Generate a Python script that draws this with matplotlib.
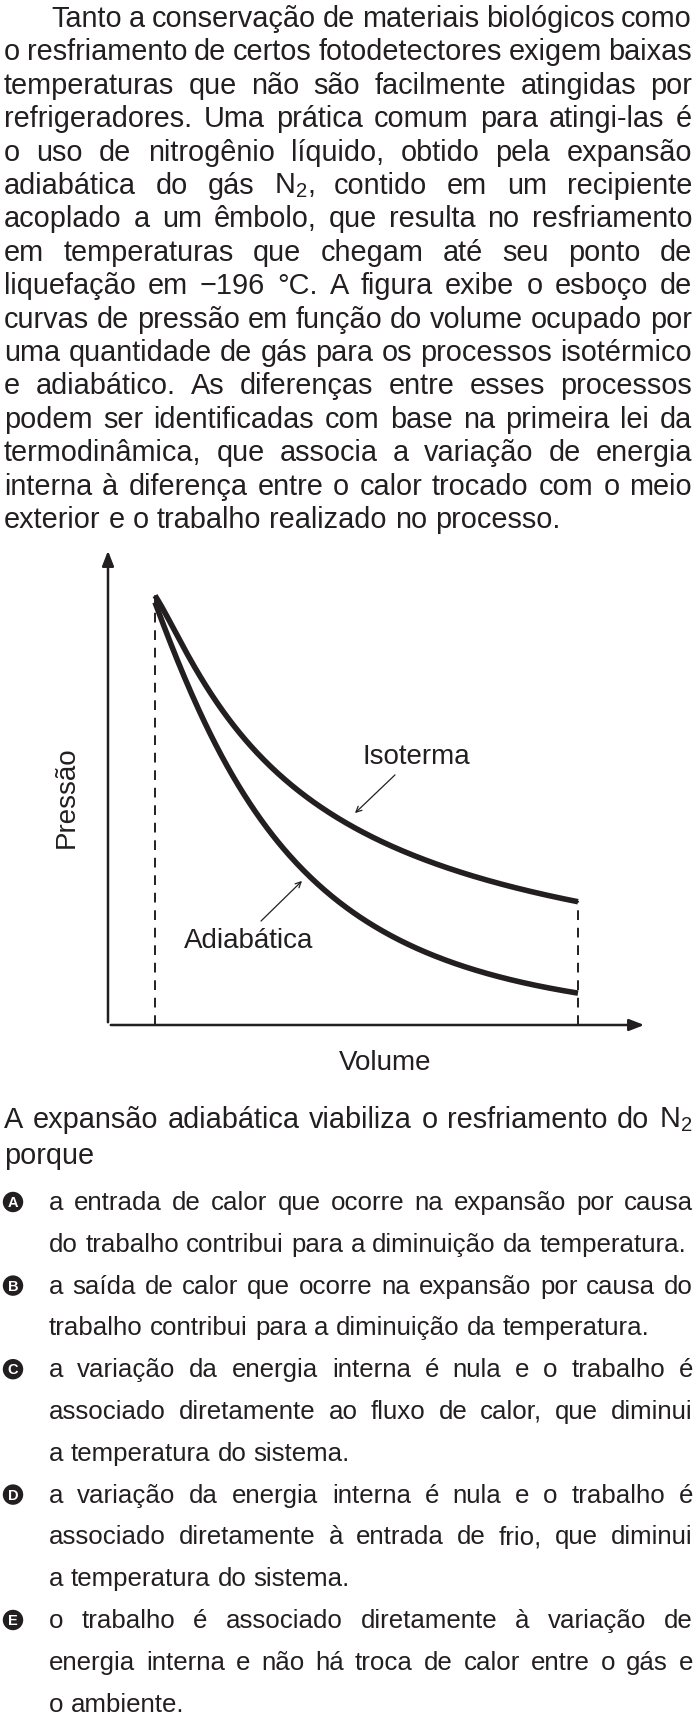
import matplotlib
matplotlib.use('Agg')
import matplotlib.pyplot as plt
import numpy as np

plt.rcParams['font.family'] = ['Liberation Sans', 'DejaVu Sans']
plt.rcParams['mathtext.fontset'] = 'custom'
plt.rcParams['mathtext.rm'] = 'Liberation Sans'
plt.rcParams['mathtext.default'] = 'regular'

W, H = 696, 1724

paragraph = [
    "Tanto a conservação de materiais biológicos como",
    "o resfriamento de certos fotodetectores exigem baixas",
    "temperaturas que não são facilmente atingidas por",
    "refrigeradores. Uma prática comum para atingi-las é",
    "o uso de nitrogênio líquido, obtido pela expansão",
    "adiabática do gás N$_2$, contido em um recipiente",
    "acoplado a um êmbolo, que resulta no resfriamento",
    "em temperaturas que chegam até seu ponto de",
    "liquefação em −196 °C. A figura exibe o esboço de",
    "curvas de pressão em função do volume ocupado por",
    "uma quantidade de gás para os processos isotérmico",
    "e adiabático. As diferenças entre esses processos",
    "podem ser identificadas com base na primeira lei da",
    "termodinâmica, que associa a variação de energia",
    "interna à diferença entre o calor trocado com o meio",
    "exterior e o trabalho realizado no processo.",
]
stem = ["A expansão adiabática viabiliza o resfriamento do N$_2$", "porque"]
options = {
    "A": ["a entrada de calor que ocorre na expansão por causa",
          "do trabalho contribui para a diminuição da temperatura."],
    "B": ["a saída de calor que ocorre na expansão por causa do",
          "trabalho contribui para a diminuição da temperatura."],
    "C": ["a variação da energia interna é nula e o trabalho é",
          "associado diretamente ao fluxo de calor, que diminui",
          "a temperatura do sistema."],
    "D": ["a variação da energia interna é nula e o trabalho é",
          "associado diretamente à entrada de frio, que diminui",
          "a temperatura do sistema."],
    "E": ["o trabalho é associado diretamente à variação de",
          "energia interna e não há troca de calor entre o gás e",
          "o ambiente."],
}

# curve points (volume, pressure in arbitrary units)
iso_v = [47, 79, 123, 181, 248, 314, 381, 470]
iso_p = [430, 370, 303, 243, 197, 166, 143, 124]
adi_v = [47, 65, 101, 141, 194, 248, 314, 381, 470]
adi_p = [430, 365, 290, 228, 160, 112, 72, 49, 33]

fig = plt.figure(figsize=(W / 100, H / 100), dpi=100)
renderer = fig.canvas.get_renderer()


def fx(x):
    return x / W


def fy(y):
    return 1 - y / H


def width_of(s, size):
    t = fig.text(0, 0, s, fontsize=size)
    w = t.get_window_extent(renderer).width
    t.remove()
    return w


def line(text, x0, x1, y, size, justify=True):
    words = text.split(' ')
    widths = [width_of(w, size) for w in words]
    natural = width_of('a a', size) - 2 * width_of('a', size)
    gap = natural
    if justify and len(words) > 1:
        gap = (x1 - x0 - sum(widths)) / (len(words) - 1)
    # shrink if the line does not fit
    if gap < natural * 0.6 and justify:
        size *= (x1 - x0) / (sum(widths) + natural * 0.6 * (len(words) - 1))
        widths = [width_of(w, size) for w in words]
        gap = (x1 - x0 - sum(widths)) / (len(words) - 1)
    x = x0
    for w, wd in zip(words, widths):
        fig.text(fx(x), fy(y), w, fontsize=size, va='center', color='#231f20')
        x += wd + gap


size = 20.8
y = 19
for i, t in enumerate(paragraph):
    line(t, 51 if i == 0 else 4, 692, y, size, justify=i < len(paragraph) - 1)
    y += 33.4

line(stem[0], 4, 692, 1120, size)
line(stem[1], 4, 692, 1156, size, justify=False)

y = 1203
osize = 18.6
for letter, lines in options.items():
    fig.text(fx(13), fy(y), letter, fontsize=10.5, fontweight='bold', color='white',
             ha='center', va='center',
             bbox=dict(boxstyle='circle,pad=0.22', fc='#231f20', ec='none'))
    for j, t in enumerate(lines):
        line(t, 49, 693, y, osize, justify=j < len(lines) - 1)
        y += 41.8

# chart
ax = fig.add_axes([fx(108), fy(1026), (647 - 108) / W, (1026 - 549) / H])
ax.set_xlim(0, 539)
ax.set_ylim(0, 477)
ax.axis('off')
ax.annotate('', xy=(0, 477), xytext=(0, 0),
            arrowprops=dict(arrowstyle='-|>,head_length=0.9,head_width=0.35', lw=1.8, color='#231f20'))
ax.annotate('', xy=(539, 0), xytext=(0, 0),
            arrowprops=dict(arrowstyle='-|>,head_length=0.9,head_width=0.35', lw=1.8, color='#231f20'))


def smooth(v, p):
    lv, lp = np.log(v), np.log(p)
    c = np.polyfit(lv, lp, 3)
    vv = np.linspace(v[0], v[-1], 300)
    return vv, np.exp(np.polyval(c, np.log(vv)))


for v, p in [(iso_v, iso_p), (adi_v, adi_p)]:
    vv, pp = smooth(v, p)
    ax.plot(vv, pp, color='#231f20', lw=4, solid_capstyle='butt')

ax.plot([iso_v[0], iso_v[0]], [0, iso_p[0]], color='#231f20', lw=1.4, dashes=(5, 4))
ax.plot([iso_v[-1], iso_v[-1]], [0, iso_p[-1]], color='#231f20', lw=1.4, dashes=(5, 4))

ax.text(308, 269, 'Isoterma', fontsize=20, ha='center', va='center', color='#231f20')
ax.annotate('', xy=(245, 210), xytext=(289, 252),
            arrowprops=dict(arrowstyle='->', lw=0.9, color='#231f20'))
ax.text(141, 85, 'Adiabática', fontsize=20, ha='center', va='center', color='#231f20')
ax.annotate('', xy=(196, 146), xytext=(151, 102),
            arrowprops=dict(arrowstyle='->', lw=0.9, color='#231f20'))
fig.text(fx(67), fy(797), 'Pressão', fontsize=20, rotation=90, ha='center', va='center', color='#231f20')
fig.text(fx(385), fy(1063), 'Volume', fontsize=20, ha='center', va='center', color='#231f20')

fig.savefig('out.png', dpi=100)
